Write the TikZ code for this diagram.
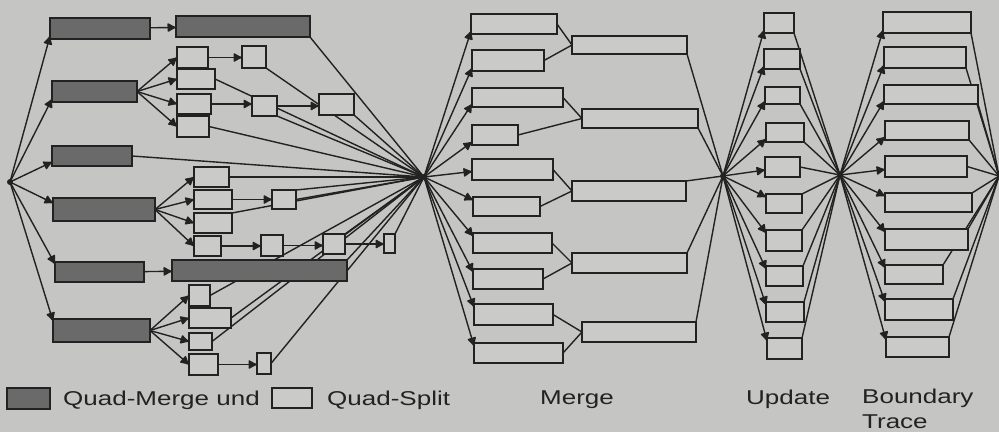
\documentclass[tikz,border=0pt]{standalone}
\usepackage{fontspec}
\newfontfamily\labfont{Liberation Sans}[FakeStretch=1.3]
\usetikzlibrary{arrows.meta}
\pgfdeclarelayer{back}\pgfdeclarelayer{edges}
\pgfsetlayers{back,edges,main}
\definecolor{bgc}{HTML}{C5C5C3}
\definecolor{ink}{HTML}{222222}
\definecolor{darkfill}{HTML}{6A6A6A}
\definecolor{boxfill}{HTML}{CACAC8}
\tikzset{
 wbox/.style={draw=ink, line width=1.7pt, fill=boxfill, inner sep=0pt, outer sep=0pt},
 dbox/.style={draw=ink, line width=1.7pt, fill=darkfill, inner sep=0pt, outer sep=0pt},
 conn/.style={draw=ink, line width=1.4pt},
 arr/.style={conn, -{Latex[round,length=10pt,width=10pt]}},
 lab/.style={font=\labfont\fontsize{20}{24}\selectfont, text=ink, inner sep=0pt, anchor=base west},
 hubdot/.style={circle, fill=ink, inner sep=0pt, minimum size=6pt},
}
\newcommand\bx[6]{\node[#6, minimum width={(#4)-(#2)}, minimum height={(#5)-(#3)}] (#1) at ({((#2)+(#4))/2},{((#3)+(#5))/2}) {};}
\begin{document}
\begin{tikzpicture}[x=1pt,y=-1pt]
\begin{pgfonlayer}{back}
\fill[bgc] (0,0) rectangle (999,432);
\end{pgfonlayer}
\useasboundingbox (0,0) rectangle (999,432);
% hubs
\node[hubdot] (root) at (10,182) {};
\node[hubdot] (hub1) at (424,177) {};
\node[hubdot] (hub2) at (723,176) {};
\node[hubdot] (hub3) at (840,175) {};
\coordinate (rend) at (999,176);
% dark boxes
\bx{D1}{50}{18}{150}{39}{dbox}
\bx{D1b}{176}{16}{310}{37}{dbox}
\bx{D2}{52}{81}{137}{102}{dbox}
\bx{D3}{52}{146}{132}{166}{dbox}
\bx{D4}{53}{198}{155}{221}{dbox}
\bx{D5}{55}{262}{144}{282}{dbox}
\bx{D5b}{172}{260}{347}{281}{dbox}
\bx{D6}{53}{319}{150}{342}{dbox}
% white boxes left section
\bx{W2a}{177}{47}{208}{68}{wbox}
\bx{W2b}{177}{69}{215}{89}{wbox}
\bx{W2c}{177}{94}{211}{114}{wbox}
\bx{W2d}{177}{116}{209}{137}{wbox}
\bx{W2e}{242}{46}{266}{68}{wbox}
\bx{W2f}{252}{96}{277}{116}{wbox}
\bx{W2g}{319}{94}{354}{115}{wbox}
\bx{W4a}{194}{167}{229}{187}{wbox}
\bx{W4b}{194}{190}{232}{209}{wbox}
\bx{W4c}{194}{213}{232}{233}{wbox}
\bx{W4d}{194}{236}{221}{256}{wbox}
\bx{W4e}{272}{190}{296}{209}{wbox}
\bx{W4f}{261}{235}{283}{256}{wbox}
\bx{W4g}{323}{234}{345}{254}{wbox}
\bx{W4h}{384}{234}{395}{253}{wbox}
\bx{W6a}{189}{285}{210}{306}{wbox}
\bx{W6b}{189}{308}{231}{328}{wbox}
\bx{W6c}{189}{333}{212}{350}{wbox}
\bx{W6d}{189}{354}{218}{375}{wbox}
\bx{W6e}{257}{353}{271}{374}{wbox}
% merge
\bx{M1}{471}{14}{557}{34}{wbox}
\bx{M2}{472}{50}{544}{71}{wbox}
\bx{M3}{472}{88}{563}{107}{wbox}
\bx{M4}{472}{125}{518}{145}{wbox}
\bx{M5}{472}{159}{553}{180}{wbox}
\bx{M6}{473}{197}{540}{216}{wbox}
\bx{M7}{473}{233}{552}{253}{wbox}
\bx{M8}{473}{269}{543}{289}{wbox}
\bx{M9}{474}{304}{553}{325}{wbox}
\bx{M10}{474}{343}{563}{363}{wbox}
\bx{R1}{572}{36}{687}{54}{wbox}
\bx{R2}{582}{109}{698}{128}{wbox}
\bx{R3}{572}{181}{686}{201}{wbox}
\bx{R4}{572}{253}{687}{273}{wbox}
\bx{R5}{582}{322}{696}{342}{wbox}
% update
\bx{U1}{764}{13}{794}{33}{wbox}
\bx{U2}{764}{49}{800}{69}{wbox}
\bx{U3}{765}{87}{800}{104}{wbox}
\bx{U4}{766}{123}{804}{142}{wbox}
\bx{U5}{765}{157}{800}{177}{wbox}
\bx{U6}{766}{194}{802}{213}{wbox}
\bx{U7}{766}{230}{802}{251}{wbox}
\bx{U8}{766}{266}{803}{286}{wbox}
\bx{U9}{766}{302}{804}{322}{wbox}
\bx{U10}{767}{338}{802}{359}{wbox}
% boundary trace
\bx{B1}{883}{12}{971}{33}{wbox}
\bx{B2}{884}{47}{966}{68}{wbox}
\bx{B3}{884}{85}{978}{104}{wbox}
\bx{B4}{885}{121}{969}{140}{wbox}
\bx{B5}{885}{156}{967}{177}{wbox}
\bx{B6}{885}{193}{972}{212}{wbox}
\bx{B7}{885}{229}{968}{250}{wbox}
\bx{B8}{885}{265}{943}{284}{wbox}
\bx{B9}{885}{299}{953}{320}{wbox}
\bx{B10}{886}{337}{949}{357}{wbox}
% legend
\node[dbox, minimum width=43pt, minimum height=21pt] (swd) at (28.5,398.5) {};
\node[wbox, minimum width=40pt, minimum height=20pt] (sww) at (292,398) {};
\node[lab] (lq) at (63,405) {Quad-Merge und};
\node[lab] (ls) at (327,405) {Quad-Split};
\node[lab] (lm) at (540,404) {Merge};
\node[lab] (lu) at (746,404) {Update};
\node[lab] (lb) at (862,403) {Boundary};
\node[lab] (lt) at (862,428) {Trace};
\begin{pgfonlayer}{edges}
% root fan
\draw[arr] (root.center) -- ([yshift=3pt]D1.south west);
\draw[arr] (root.center) -- ([yshift=3pt]D2.south west);
\draw[arr] (root.center) -- ([yshift=4pt]D3.south west);
\draw[arr] (root.center) -- ([yshift=-5pt]D4.north west);
\draw[arr] (root.center) -- ([yshift=-2pt]D5.north west);
\draw[arr] (root.center) -- ([yshift=-2pt]D6.north west);
% chains
\draw[arr] (D1) -- (D1b);
\draw[arr] (D5) -- (D5b);
\foreach \b in {W2a,W2b,W2c,W2d} \draw[arr] (D2.east) -- (\b.west);
\foreach \b in {W4a,W4b,W4c,W4d} \draw[arr] (D4.east) -- (\b.west);
\foreach \b in {W6a,W6b,W6c,W6d} \draw[arr] (D6.east) -- (\b.west);
\draw[arr] (W2a) -- (W2a.east -| W2e.west);
\draw[arr] (W2c) -- (W2c.east -| W2f.west);
\draw[arr] (W2f) -- (W2f.east -| W2g.west);
\draw[arr] (W4b) -- (W4b.east -| W4e.west);
\draw[arr] (W4d) -- (W4d.east -| W4f.west);
\draw[arr] (W4f) -- (W4f.east -| W4g.west);
\draw[arr] (W4g) -- (W4g.east -| W4h.west);
\draw[arr] (W6d) -- (W6d.east -| W6e.west);
% into hub1
\foreach \a in {D1b.south east,W2b.east,W2e.south east,W2g.south east,W2f.south east,W2d.east,D3.east,W4a.east,W4e.north east,W4e.east,W4c.north east,W4g.north east,W4h.north east,D5b.north east,W6a.east,W6b.east,W6c.east,W6e.east}
  \draw[conn] (\a) -- (hub1.center);
% hub1 -> merge
\foreach \b in {M1,M2,M3,M4} \draw[arr] (hub1.center) -- ([yshift=3pt]\b.south west);
\draw[arr] (hub1.center) -- ([yshift=-2pt]M5.west);
\foreach \b in {M6,M7,M8,M9,M10} \draw[arr] (hub1.center) -- ([yshift=-3pt]\b.north west);
\foreach \a/\b in {M1/R1,M2/R1,M3/R2,M4/R2,M5/R3,M6/R3,M7/R4,M8/R4,M9/R5,M10/R5}
  \draw[conn] (\a.east) -- (\b.west);
\foreach \a in {R1.south east,R2.south east,R3.north east,R4.north east,R5.north east}
  \draw[conn] (\a) -- (hub2.center);
% update
\foreach \b in {U1,U2,U3,U4} \draw[arr] (hub2.center) -- ([yshift=3pt]\b.south west);
\draw[arr] (hub2.center) -- ([yshift=-3pt]U5.west);
\foreach \b in {U6,U7,U8,U9,U10} \draw[arr] (hub2.center) -- ([yshift=-3pt]\b.north west);
\foreach \a in {U1.south east,U2.south east,U3.south east,U4.south east,U5.east,U6.north east,U7.north east,U8.north east,U9.north east,U10.north east}
  \draw[conn] (\a) -- (hub3.center);
% boundary trace
\foreach \b in {B1,B2,B3,B4} \draw[arr] (hub3.center) -- ([yshift=3pt]\b.south west);
\draw[arr] (hub3.center) -- ([yshift=-3pt]B5.west);
\foreach \b in {B6,B7,B8,B9,B10} \draw[arr] (hub3.center) -- ([yshift=-3pt]\b.north west);
\foreach \a in {B1.south east,B2.south east,B3.south east,B4.south east,B5.east,B6.north east,B7.north east,B8.north east,B9.north east,B10.north east}
  \draw[conn] (\a) -- (rend);
\end{pgfonlayer}
\end{tikzpicture}
\end{document}
